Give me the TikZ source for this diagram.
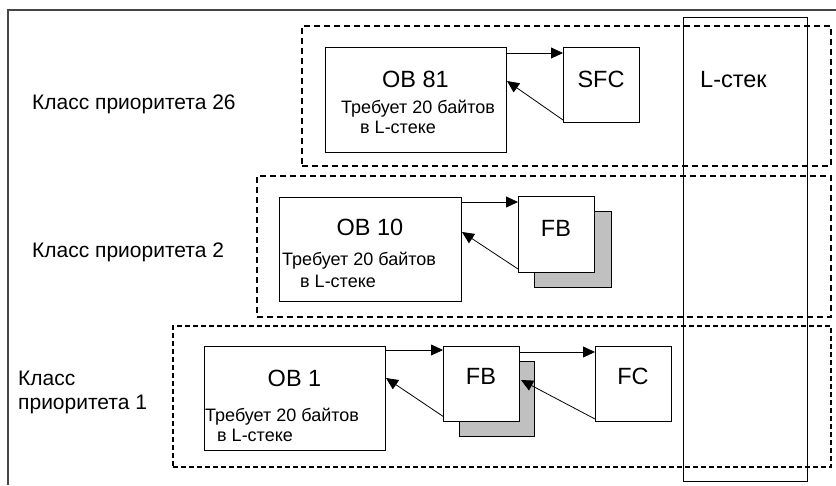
\documentclass[tikz,border=0pt]{standalone}
\usepackage{fontspec}
\setmainfont{Liberation Sans}
\usetikzlibrary{arrows.meta,calc}
\definecolor{shade}{RGB}{192,192,192}
\definecolor{framec}{RGB}{70,70,70}
\begin{document}
\begin{tikzpicture}[x=1pt,y=-1pt,
  box/.style={draw=black, line width=0.9pt, fill=white, inner sep=0pt, outer sep=0pt, anchor=north west},
  shadowbox/.style={box, fill=shade},
  grp/.style={draw=black, inner sep=0pt, outer sep=0pt, anchor=north west, dash pattern=on 6pt off 4pt},
  fwd/.style={draw=black, line width=0.8pt, -{Triangle[length=12pt,width=11pt]}},
  big/.style={font=\fontsize{23.5}{26}\selectfont, inner sep=0pt, anchor=base},
  small/.style={font=\fontsize{18}{20}\selectfont, inner sep=0pt, anchor=base west},
  cls/.style={font=\fontsize{21}{24}\selectfont, inner sep=0pt, anchor=base west}
]
\useasboundingbox (0,0) rectangle (836,485);
\fill[white] (0,0) rectangle (836,485);
% outer frame (cut off at right and bottom)
\draw[framec, line width=1.4pt] (8,485) -- (8,10) -- (836,10);

% priority groups
\node[grp, line width=1.9pt, minimum width=529pt, minimum height=140pt] (g26) at (302,26) {};
\node[grp, line width=1.7pt, minimum width=574pt, minimum height=141pt] (g2) at (257,176) {};
\node[grp, line width=1.2pt, dash pattern=on 5pt off 3pt, minimum width=658pt, minimum height=141pt] (g1) at (173,326) {};

% L-stack
\node[draw=black, line width=0.9pt, inner sep=0pt, outer sep=0pt, anchor=north west, minimum width=124pt, minimum height=464pt] (lstack) at (683,17) {};
\node[font=\fontsize{23.5}{26}\selectfont, inner sep=0pt, anchor=base west] (lstacklbl) at (700,87) {L-стек};

% class labels
\node[cls] (c26) at (32,109) {Класс приоритета 26};
\node[cls] (c2) at (32,257) {Класс приоритета 2};
\node[cls] (c1a) at (18,385) {Класс};
\node[cls] (c1b) at (18,409) {приоритета 1};

% priority 26
\node[box, minimum width=181pt, minimum height=105pt] (ob81) at (325,47) {};
\node[box, minimum width=76pt, minimum height=75pt] (sfc) at (563,47) {};
\node[big] (ob81t) at (415.5,87) {OB 81};
\node[small] (ob81s1) at (341,113) {Требует 20 байтов};
\node[small] (ob81s2) at (360,133) {в L-стеке};
\node[big] (sfct) at (601,87) {SFC};

% priority 2
\node[box, minimum width=182pt, minimum height=104pt] (ob10) at (279,197) {};
\node[shadowbox, minimum width=77pt, minimum height=76pt] (fb2s) at (534,211) {};
\node[box, minimum width=76pt, minimum height=76pt] (fb2) at (518,196) {};
\node[big] (ob10t) at (370,235) {OB 10};
\node[small] (ob10s1) at (282,265) {Требует 20 байтов};
\node[small] (ob10s2) at (300,287) {в L-стеке};
\node[big] (fb2t) at (556,236) {FB};

% priority 1
\node[box, minimum width=181pt, minimum height=104pt] (ob1) at (204,346) {};
\node[shadowbox, minimum width=75pt, minimum height=75pt] (fb1s) at (459,361) {};
\node[box, minimum width=76pt, minimum height=75pt] (fb1) at (443,346) {};
\node[box, minimum width=76pt, minimum height=75pt] (fc) at (595,346) {};
\node[big] (ob1t) at (294.5,386) {OB 1};
\node[small] (ob1s1) at (205,421) {Требует 20 байтов};
\node[small] (ob1s2) at (217,441) {в L-стеке};
\node[big] (fb1t) at (481,384) {FB};
\node[big] (fct) at (633,384) {FC};

% calls and returns
\draw[fwd] ($(ob81.north east)+(0,6)$) -- ($(sfc.north west)+(0,6)$);
\draw[fwd] ($(sfc.south west)+(0,-2)$) -- ($(ob81.north east)+(1,34)$);

\draw[fwd] ($(ob10.north east)+(0,5)$) -- ($(fb2.north west)+(0,6)$);
\draw[fwd] ($(fb2.south west)+(0,-3)$) -- ($(ob10.north east)+(1,35)$);

\draw[fwd] ($(ob1.north east)+(0,4)$) -- ($(fb1.north west)+(0,4)$);
\draw[fwd] ($(fb1.north east)+(0,6)$) -- ($(fc.north west)+(0,6)$);
\draw[fwd] ($(fb1.south west)+(1,-4)$) -- ($(ob1.north east)+(1,32)$);
\draw[fwd] ($(fc.south west)+(0,-2)$) -- ($(fb1.north east)+(2,34)$);
\end{tikzpicture}
\end{document}
